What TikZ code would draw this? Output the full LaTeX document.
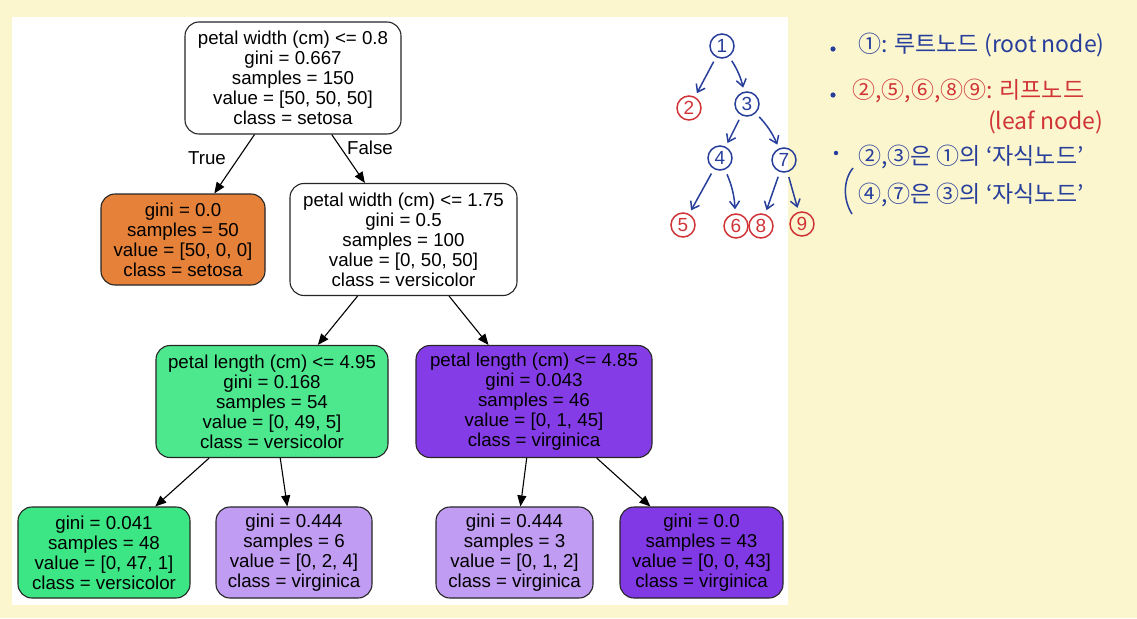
\documentclass[tikz,border=0pt]{standalone}
\usepackage{fontspec}
\setmainfont{Liberation Sans}
\newfontfamily\kr{Noto Sans CJK KR}
\usetikzlibrary{arrows.meta}
\definecolor{bgcream}{RGB}{251,246,206}
\definecolor{cOrange}{RGB}{229,129,57}
\definecolor{cGreenA}{RGB}{77,232,142}
\definecolor{cGreenB}{RGB}{61,230,132}
\definecolor{cPurpA}{RGB}{132,61,230}
\definecolor{cPurpL}{RGB}{192,156,242}
\definecolor{cPurpB}{RGB}{129,57,229}
\definecolor{inkblue}{RGB}{40,62,155}
\definecolor{inkred}{RGB}{208,52,55}
\tikzset{
  tn/.style={draw=black!85, line width=1.1pt, rounded corners=14pt, align=center,
    inner sep=0pt, font=\fontsize{18.7}{20}\selectfont},
  big/.style={minimum height=112pt},
  small/.style={minimum height=91pt},
  edge/.style={-{Triangle[length=11pt,width=9pt]}, line width=1.1pt, black},
  elabel/.style={font=\fontsize{18.7}{20}\selectfont},
  mb/.style={circle, draw=inkblue, text=inkblue, line width=1.5pt, minimum size=24pt, inner sep=0pt, font=\fontsize{19}{19}\selectfont},
  mr/.style={circle, draw=inkred, text=inkred, line width=1.5pt, minimum size=24pt, inner sep=0pt, font=\fontsize{19}{19}\selectfont},
  marrow/.style={draw=inkblue, line width=1.5pt, -{Straight Barb[length=7pt,width=10pt]}, shorten <=5pt, shorten >=4pt},
  note/.style={anchor=west, inner sep=0pt, font=\kr\fontsize{23}{25}\selectfont},
}
\begin{document}
\begin{tikzpicture}[x=1pt,y=-1pt]
\useasboundingbox (0,0) rectangle (1137,618);
\fill[bgcream] (0,0) rectangle (1137,618);
\fill[white] (12,17) rectangle (788,605);

% decision tree
\node[tn, big, fill=white, minimum width=216pt] (root) at (293,78)
  {petal width (cm) <= 0.8\\gini = 0.667\\samples = 150\\value = [50, 50, 50]\\class = setosa};
\node[tn, small, fill=cOrange, minimum width=164pt] (setosa) at (183,239.5)
  {gini = 0.0\\samples = 50\\value = [50, 0, 0]\\class = setosa};
\node[tn, big, fill=white, minimum width=227pt] (pw) at (403.5,239.5)
  {petal width (cm) <= 1.75\\gini = 0.5\\samples = 100\\value = [0, 50, 50]\\class = versicolor};
\node[tn, big, fill=cGreenA, minimum width=232pt] (plA) at (272,401.5)
  {petal length (cm) <= 4.95\\gini = 0.168\\samples = 54\\value = [0, 49, 5]\\class = versicolor};
\node[tn, big, fill=cPurpA, minimum width=236pt] (plB) at (534,401.5)
  {petal length (cm) <= 4.85\\gini = 0.043\\samples = 46\\value = [0, 1, 45]\\class = virginica};
\node[tn, small, fill=cGreenB, minimum width=172pt] (l1) at (104,552.5)
  {gini = 0.041\\samples = 48\\value = [0, 47, 1]\\class = versicolor};
\node[tn, small, fill=cPurpL, minimum width=156pt] (l2) at (294,552.5)
  {gini = 0.444\\samples = 6\\value = [0, 2, 4]\\class = virginica};
\node[tn, small, fill=cPurpL, minimum width=157pt] (l3) at (514.5,552.5)
  {gini = 0.444\\samples = 3\\value = [0, 1, 2]\\class = virginica};
\node[tn, small, fill=cPurpB, minimum width=163pt] (l4) at (701.5,552.5)
  {gini = 0.0\\samples = 43\\value = [0, 0, 43]\\class = virginica};

\draw[edge] (root) -- (setosa);
\draw[edge] (root) -- (pw);
\draw[edge] (pw) -- (plA);
\draw[edge] (pw) -- (plB);
\draw[edge] (plA) -- (l1);
\draw[edge] (plA) -- (l2);
\draw[edge] (plB) -- (l3);
\draw[edge] (plB) -- (l4);
\node[elabel] (tlab) at (207,158) {True};
\node[elabel] (flab) at (370,148) {False};

% hand-drawn mini tree
\node[mb] (m1) at (722,46) {1};
\node[mr] (m2) at (689,108) {2};
\node[mb] (m3) at (747,104) {3};
\node[mb] (m4) at (720,158) {4};
\node[mb] (m7) at (784,160) {7};
\node[mr] (m5) at (683,225) {5};
\node[mr] (m6) at (736,226) {6};
\node[mr] (m8) at (761,226) {8};
\node[mr] (m9) at (802,224) {9};
\draw[marrow] (m1) -- (m2);
\draw[marrow] (m1) to[bend left=10] (m3);
\draw[marrow] (m3) -- (m4);
\draw[marrow] (m3) to[bend left=10] (m7);
\draw[marrow] (m4) -- (m5);
\draw[marrow] (m4) to[bend left=10] (m6);
\draw[marrow] (m7) -- (m8);
\draw[marrow] (m7) -- (m9);

% notes
\fill[inkblue] (833,49) circle (2.6pt);
\fill[inkblue] (833,95) circle (2.6pt);
\fill[inkblue] (836,153) circle (2.2pt);
\node[note, text=inkblue] (n1) at (858,45) {①: 루트노드 (root node)};
\node[note, text=inkred] (n2) at (852,91) {②,⑤,⑥,⑧⑨: 리프노드};
\node[note, text=inkred] (n3) at (988,122) {(leaf node)};
\node[note, text=inkblue] (n4) at (858,157) {②,③은 ①의 ‘자식노드’};
\node[note, text=inkblue] (n5) at (858,195) {④,⑦은 ③의 ‘자식노드’};
\draw[inkblue, line width=1.5pt] (853,168) .. controls (843,180) and (843,200) .. (852,214);
\end{tikzpicture}
\end{document}
